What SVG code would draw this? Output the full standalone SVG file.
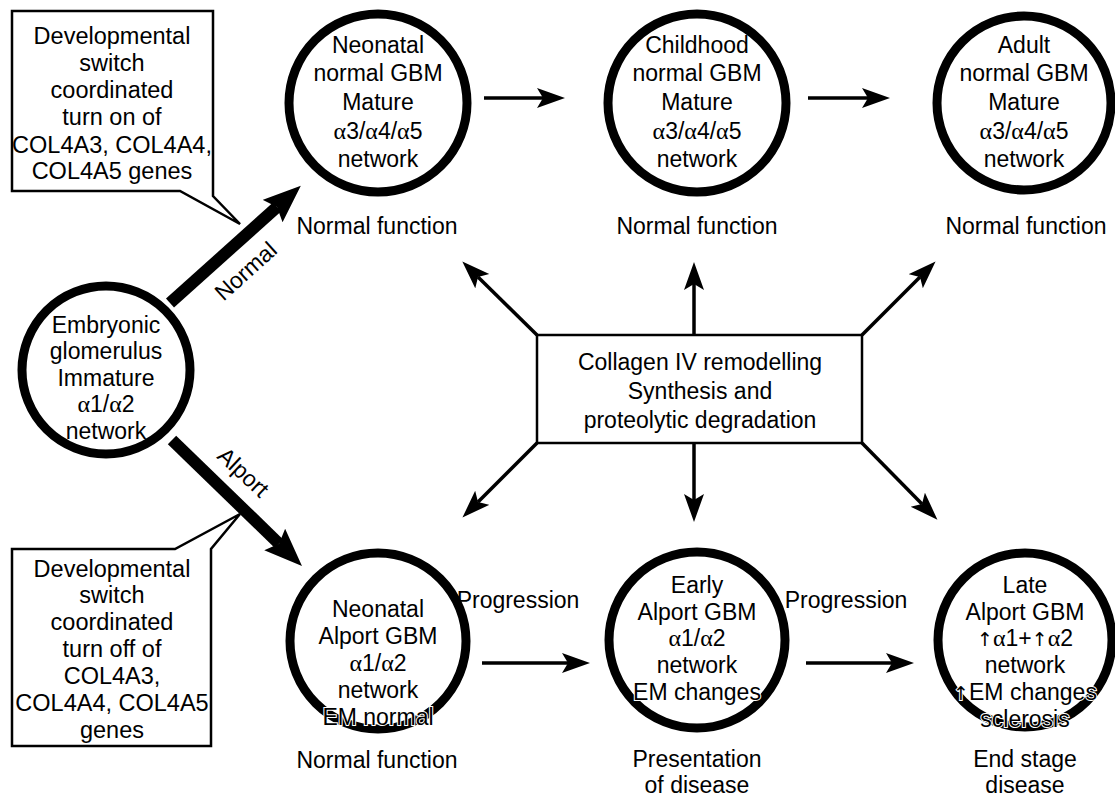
<svg xmlns="http://www.w3.org/2000/svg" width="1115" height="798" viewBox="0 0 1115 798">
<style>
.t{font-family:"Liberation Sans",Arial,Helvetica,sans-serif;font-size:23px;text-anchor:middle;fill:#000}
.c{font-size:23.5px}
.h{stroke:#fff;stroke-width:2;paint-order:stroke}
.a{font-family:"Liberation Serif","Times New Roman",serif;font-size:24px}
.u{font-family:"DejaVu Sans",sans-serif;font-size:19px;font-weight:normal}
.node circle{fill:#fff;stroke:#000;stroke-width:9}
.box{fill:#fff;stroke:#000;stroke-width:2.5}
.thin{stroke:#000;stroke-width:3.5;fill:none}
.thick{stroke:#000;stroke-width:12;fill:none}
</style>
<defs>
<marker id="ah" markerUnits="userSpaceOnUse" markerWidth="30" markerHeight="22" refX="6" refY="10" orient="auto"><path d="M0,0 L28,10 L0,20 L6,10 z" fill="#000"/></marker>
<marker id="ahb" markerUnits="userSpaceOnUse" markerWidth="40" markerHeight="32" refX="6" refY="15" orient="auto"><path d="M0,0 L38,15 L0,30 L6,15 z" fill="#000"/></marker>
</defs>
<rect width="1115" height="798" fill="#fff"/>
<g id="connectors">
<line class="thick" x1="170" y1="303" x2="277" y2="207" marker-end="url(#ahb)"/>
<line class="thick" x1="172" y1="440" x2="279" y2="543.7" marker-end="url(#ahb)"/>
<line class="thin" x1="484" y1="98" x2="543" y2="98" marker-end="url(#ah)"/>
<line class="thin" x1="808" y1="98" x2="868" y2="98" marker-end="url(#ah)"/>
<line class="thin" x1="482" y1="663" x2="568" y2="663" marker-end="url(#ah)"/>
<line class="thin" x1="806" y1="663" x2="892" y2="663" marker-end="url(#ah)"/>
<line class="thin" x1="537" y1="335" x2="478" y2="277" marker-end="url(#ah)"/>
<line class="thin" x1="694" y1="335" x2="694" y2="284" marker-end="url(#ah)"/>
<line class="thin" x1="862" y1="335" x2="920" y2="277" marker-end="url(#ah)"/>
<line class="thin" x1="537" y1="443" x2="478" y2="502" marker-end="url(#ah)"/>
<line class="thin" x1="694" y1="443" x2="694" y2="500" marker-end="url(#ah)"/>
<line class="thin" x1="862" y1="443" x2="922" y2="504" marker-end="url(#ah)"/>
<text class="t" transform="translate(251,277) rotate(-42)">Normal</text>
<text class="t" transform="translate(238,478) rotate(43)">Alport</text>
<text class="t" x="518" y="608">Progression</text>
<text class="t" x="846" y="608">Progression</text>
</g>
<g id="callout-on">
<polygon class="box" points="12,11 213,11 213,196 240,224 180,191 12,191"/>
<text class="t c" x="112" y="44">Developmental</text>
<text class="t c" x="112" y="71">switch</text>
<text class="t c" x="112" y="98">coordinated</text>
<text class="t c" x="112" y="125">turn on of</text>
<text class="t c" x="112" y="153">COL4A3, COL4A4,</text>
<text class="t c" x="112" y="179">COL4A5 genes</text>
</g>
<g id="callout-off">
<polygon class="box" points="12,549 175,549 240,514 211,549 211,746 12,746"/>
<text class="t c" x="112" y="577">Developmental</text>
<text class="t c" x="112" y="603">switch</text>
<text class="t c" x="112" y="630">coordinated</text>
<text class="t c" x="112" y="657">turn off of</text>
<text class="t c" x="112" y="684">COL4A3,</text>
<text class="t c" x="112" y="711">COL4A4, COL4A5</text>
<text class="t c" x="112" y="738">genes</text>
</g>
<g id="embryonic" class="node">
<circle cx="106" cy="370" r="84"/>
<text class="t" x="106" y="333">Embryonic</text>
<text class="t" x="106" y="359">glomerulus</text>
<text class="t" x="106" y="386">Immature</text>
<text class="t" x="106" y="412"><tspan class="a">α</tspan>1/<tspan class="a">α</tspan>2</text>
<text class="t" x="106" y="439">network</text>
</g>
<g id="neonatal-normal" class="node">
<circle cx="378" cy="103" r="89"/>
<text class="t" x="378" y="53">Neonatal</text>
<text class="t" x="378" y="81">normal GBM</text>
<text class="t" x="378" y="110">Mature</text>
<text class="t" x="378" y="139"><tspan class="a">α</tspan>3/<tspan class="a">α</tspan>4/<tspan class="a">α</tspan>5</text>
<text class="t" x="378" y="167">network</text>
<text class="t" x="377" y="234">Normal function</text>
</g>
<g id="childhood-normal" class="node">
<circle cx="697" cy="103" r="89"/>
<text class="t" x="697" y="53">Childhood</text>
<text class="t" x="697" y="81">normal GBM</text>
<text class="t" x="697" y="110">Mature</text>
<text class="t" x="697" y="139"><tspan class="a">α</tspan>3/<tspan class="a">α</tspan>4/<tspan class="a">α</tspan>5</text>
<text class="t" x="697" y="167">network</text>
<text class="t" x="697" y="234">Normal function</text>
</g>
<g id="adult-normal" class="node">
<circle cx="1024" cy="103" r="87"/>
<text class="t" x="1024" y="53">Adult</text>
<text class="t" x="1024" y="81">normal GBM</text>
<text class="t" x="1024" y="110">Mature</text>
<text class="t" x="1024" y="139"><tspan class="a">α</tspan>3/<tspan class="a">α</tspan>4/<tspan class="a">α</tspan>5</text>
<text class="t" x="1024" y="167">network</text>
<text class="t" x="1026" y="234">Normal function</text>
</g>
<g id="remodelling">
<rect class="box" x="537" y="335" width="325" height="108"/>
<text class="t" x="700" y="370">Collagen IV remodelling</text>
<text class="t" x="700" y="399">Synthesis and</text>
<text class="t" x="700" y="428">proteolytic degradation</text>
</g>
<g id="neonatal-alport" class="node">
<circle cx="378" cy="641" r="88"/>
<text class="t h" x="378" y="617">Neonatal</text>
<text class="t h" x="378" y="644">Alport GBM</text>
<text class="t h" x="378" y="671"><tspan class="a">α</tspan>1/<tspan class="a">α</tspan>2</text>
<text class="t h" x="378" y="698">network</text>
<text class="t h" x="378" y="725">EM normal</text>
<text class="t" x="377" y="768">Normal function</text>
</g>
<g id="early-alport" class="node">
<circle cx="697" cy="640" r="88"/>
<text class="t h" x="697" y="593">Early</text>
<text class="t h" x="697" y="620">Alport GBM</text>
<text class="t h" x="697" y="646"><tspan class="a">α</tspan>1/<tspan class="a">α</tspan>2</text>
<text class="t h" x="697" y="673">network</text>
<text class="t h" x="697" y="700">EM changes</text>
<text class="t" x="697" y="767">Presentation</text>
<text class="t" x="697" y="793">of disease</text>
</g>
<g id="late-alport" class="node">
<circle cx="1025" cy="640" r="87"/>
<text class="t h" x="1025" y="593">Late</text>
<text class="t h" x="1025" y="620">Alport GBM</text>
<text class="t h" x="1025" y="646"><tspan class="u">↑</tspan><tspan class="a">α</tspan>1+<tspan class="u">↑</tspan><tspan class="a">α</tspan>2</text>
<text class="t h" x="1025" y="673">network</text>
<text class="t h" x="1025" y="700"><tspan class="u">↑</tspan>EM changes</text>
<text class="t h" x="1025" y="727">sclerosis</text>
<text class="t" x="1025" y="767">End stage</text>
<text class="t" x="1025" y="793">disease</text>
</g>
</svg>
